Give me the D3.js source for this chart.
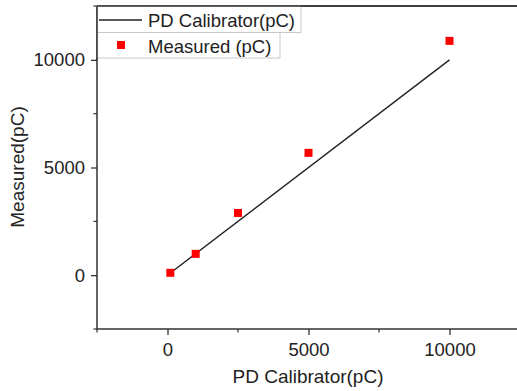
<!DOCTYPE html>
<html>
<head>
<meta charset="utf-8">
<script src="https://cdn.jsdelivr.net/npm/d3@7"></script>
<style>
  html, body { margin: 0; padding: 0; background: #fff; }
  svg { display: block; font-family: "Liberation Sans", Arial, sans-serif; }
</style>
</head>
<body>
<svg id="chart" width="517" height="391"></svg>
<script>
// Calibrator reference charge vs. measured charge
const calibrator = [100, 1000, 2500, 5000, 10000];
const measured = [110, 990, 2890, 5680, 10880];
const refLine = [100, 10000];
const xTicks = [0, 5000, 10000];
const yTicks = [0, 5000, 10000];
const minorTicks = [-2500, 2500, 7500, 12500];
const seriesNames = ["PD Calibrator(pC)", "Measured (pC)"];

const svg = d3.select("#chart");
const plotLeft = 97, plotRight = 520, plotTop = 6, plotBottom = 329;

const x = d3.scaleLinear().domain([-2500, 12500]).range([plotLeft, plotRight]);
const y = d3.scaleLinear().domain([-2500, 12500]).range([plotBottom, plotTop]);

const axisColor = "#333";

// frame
svg.append("path")
  .attr("d", `M${plotLeft},${plotTop}H${plotRight}M${plotLeft},${plotTop}V${plotBottom}H${plotRight}`)
  .attr("fill", "none").attr("stroke", axisColor).attr("stroke-width", 1.5);

// x axis
const xAxis = svg.append("g").attr("transform", `translate(0,${plotBottom})`)
  .call(d3.axisBottom(x).tickValues(xTicks).tickSize(6).tickPadding(8).tickFormat(d3.format("d")));
xAxis.select(".domain").remove();
xAxis.selectAll(".tick line").attr("stroke", axisColor).attr("stroke-width", 1.3);
xAxis.selectAll(".tick text").attr("font-size", 18.5).attr("fill", "#222")
  .attr("font-family", "Liberation Sans, Arial, sans-serif");
svg.append("g").selectAll("line").data(minorTicks).join("line")
  .attr("x1", d => x(d)).attr("x2", d => x(d))
  .attr("y1", plotBottom).attr("y2", plotBottom + 3.5)
  .attr("stroke", axisColor).attr("stroke-width", 1.2);

// y axis
const yAxis = svg.append("g").attr("transform", `translate(${plotLeft},0)`)
  .call(d3.axisLeft(y).tickValues(yTicks).tickSize(6).tickPadding(6).tickFormat(d3.format("d")));
yAxis.select(".domain").remove();
yAxis.selectAll(".tick line").attr("stroke", axisColor).attr("stroke-width", 1.3);
yAxis.selectAll(".tick text").attr("font-size", 18.5).attr("fill", "#222")
  .attr("font-family", "Liberation Sans, Arial, sans-serif");
svg.append("g").selectAll("line").data(minorTicks).join("line")
  .attr("x1", plotLeft - 3.5).attr("x2", plotLeft)
  .attr("y1", d => y(d)).attr("y2", d => y(d))
  .attr("stroke", axisColor).attr("stroke-width", 1.2);

// axis titles
svg.append("text").attr("x", 308).attr("y", 383)
  .attr("text-anchor", "middle").attr("font-size", 19).attr("fill", "#222")
  .text("PD Calibrator(pC)");
svg.append("text").attr("transform", `translate(24,167) rotate(-90)`)
  .attr("text-anchor", "middle").attr("font-size", 19).attr("fill", "#222")
  .text("Measured(pC)");

// reference line
svg.append("path")
  .datum(refLine)
  .attr("d", d3.line().x(d => x(d)).y(d => y(d)))
  .attr("fill", "none").attr("stroke", "#222").attr("stroke-width", 1.4);

// measured points
const ms = 8;
svg.append("g").selectAll("rect")
  .data(calibrator.map((c, i) => [c, measured[i]]))
  .join("rect")
  .attr("x", d => x(d[0]) - ms / 2).attr("y", d => y(d[1]) - ms / 2)
  .attr("width", ms).attr("height", ms).attr("fill", "#ff0000");

// legend
const leg = svg.append("g");
leg.append("rect").attr("x", plotLeft).attr("y", plotTop).attr("width", 204).attr("height", 26.5)
  .attr("fill", "#fff").attr("stroke", "#c8c8c8").attr("stroke-width", 1);
leg.append("rect").attr("x", plotLeft).attr("y", 32.5).attr("width", 183).attr("height", 25.5)
  .attr("fill", "#fff").attr("stroke", "#c8c8c8").attr("stroke-width", 1);
leg.append("line").attr("x1", 99).attr("x2", 142).attr("y1", 20).attr("y2", 20)
  .attr("stroke", "#222").attr("stroke-width", 1.4);
leg.append("rect").attr("x", 121 - ms / 2).attr("y", 45 - ms / 2)
  .attr("width", ms).attr("height", ms).attr("fill", "#ff0000");
leg.append("text").attr("x", 148).attr("y", 27).attr("font-size", 18.5).attr("fill", "#222")
  .text(seriesNames[0]);
leg.append("text").attr("x", 148).attr("y", 52.5).attr("font-size", 18.5).attr("fill", "#222")
  .text(seriesNames[1]);
// redraw frame edges over the legend
svg.append("line").attr("x1", plotLeft).attr("x2", plotLeft).attr("y1", plotTop).attr("y2", 60)
  .attr("stroke", axisColor).attr("stroke-width", 1.5);
svg.append("line").attr("x1", plotLeft).attr("x2", plotRight).attr("y1", plotTop).attr("y2", plotTop)
  .attr("stroke", axisColor).attr("stroke-width", 1.5);
</script>
</body>
</html>
